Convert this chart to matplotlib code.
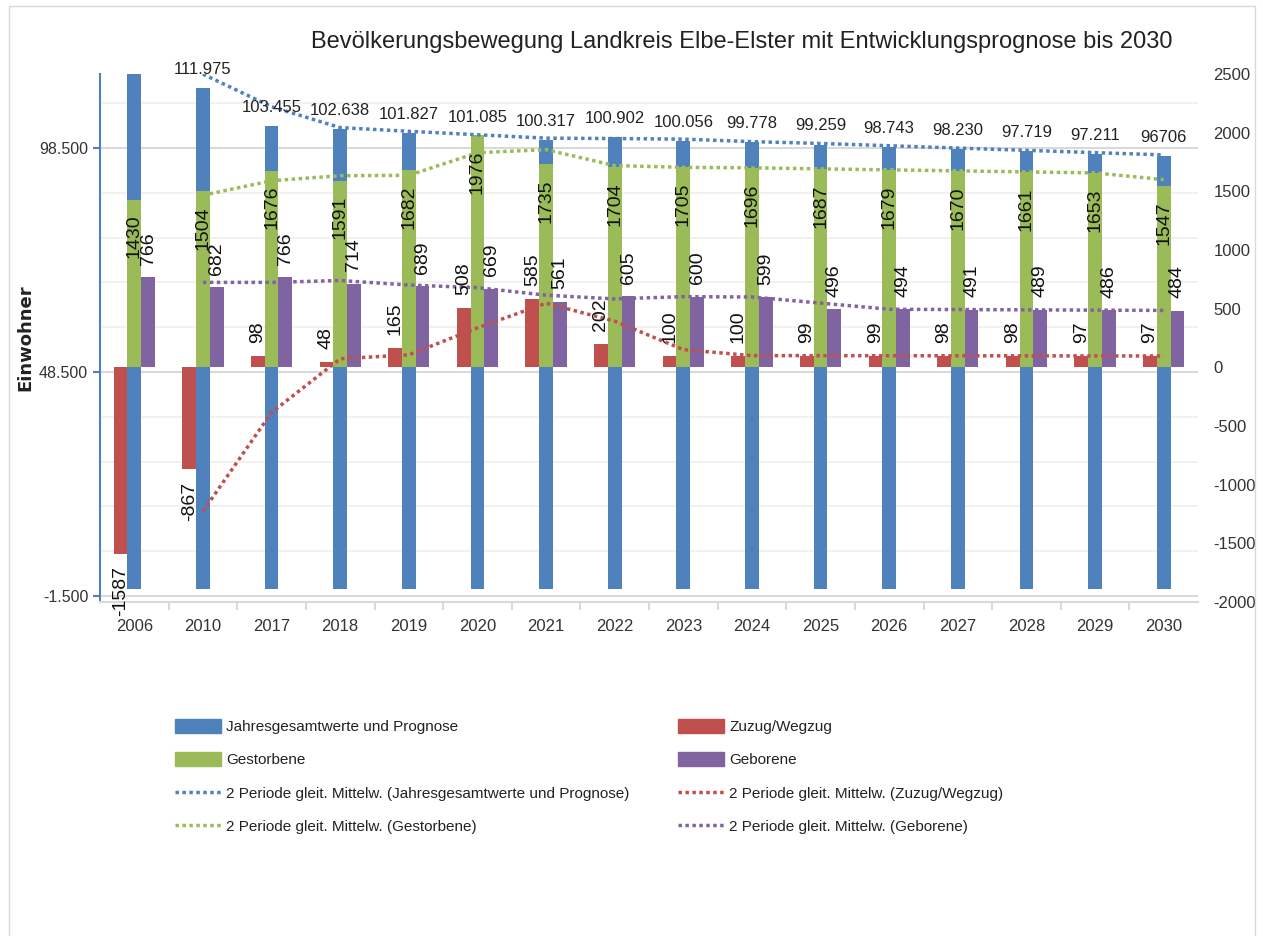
import numpy as np
import matplotlib.pyplot as plt
from matplotlib.patches import Patch, Rectangle
from matplotlib.lines import Line2D

plt.rcParams["axes.unicode_minus"] = False

# Data
years = ["2006", "2010", "2017", "2018", "2019", "2020", "2021", "2022",
         "2023", "2024", "2025", "2026", "2027", "2028", "2029", "2030"]
einwohner = [118000, 111975, 103455, 102638, 101827, 101085, 100317, 100902,
             100056, 99778, 99259, 98743, 98230, 97719, 97211, 96706]
zuzug = [-1587, -867, 98, 48, 165, 508, 585, 202, 100, 100, 99, 99, 98, 98, 97, 97]
gestorbene = [1430, 1504, 1676, 1591, 1682, 1976, 1735, 1704, 1705, 1696,
              1687, 1679, 1670, 1661, 1653, 1547]
geborene = [766, 682, 766, 714, 689, 669, 561, 605, 600, 599, 496, 494,
            491, 489, 486, 484]
einw_labels = ["", "111.975", "103.455", "102.638", "101.827", "101.085", "100.317",
               "100.902", "100.056", "99.778", "99.259", "98.743", "98.230",
               "97.719", "97.211", "96706"]

# colours (Office palette)
c_blue = "#4f81bd"
c_red = "#c0504d"
c_green = "#9bbb59"
c_purple = "#8064a2"

FONT = ["Liberation Sans", "DejaVu Sans"]


def moving_avg(v):
    v = np.asarray(v, dtype=float)
    return (v[:-1] + v[1:]) / 2


x = np.arange(len(years))
w = 0.2
dots = (0, (1, 1))

fig = plt.figure(figsize=(12.63, 9.36), dpi=100)
ax = fig.add_axes([100 / 1263, 1 - 602 / 936, 1098 / 1263, 528 / 936])

# primary axis: total population
left_lim = (-2839, 115018)
ax.set_ylim(left_lim)
ax.set_xlim(-0.5, len(years) - 0.5)
ax.bar(x, einwohner, w, color=c_blue, zorder=2)

ax.set_yticks([-1500, 48500, 98500], ["-1.500", "48.500", "98.500"])
ax.set_yticks(np.arange(8500, 115000, 10000), minor=True)
ax.grid(axis="y", which="major", color="#d9d9d9", lw=1.5, zorder=0)
ax.grid(axis="y", which="minor", color="#efefef", lw=1.2, zorder=0)
ax.tick_params(axis="y", which="major", colors=c_blue, length=5, width=1.5,
               labelcolor="#333333", labelsize=11.5, labelfontfamily=FONT)
ax.tick_params(axis="y", which="minor", length=0)
ax.set_xticks(x, years)
ax.set_xticks(x[:-1] + 0.5, minor=True)
ax.tick_params(axis="x", which="major", length=0, pad=12, labelsize=12,
               labelcolor="#333333", labelfontfamily=FONT)
ax.tick_params(axis="x", which="minor", length=6, width=1.5, color="#d9d9d9")
ax.spines["top"].set_visible(False)
ax.spines["right"].set_visible(False)
ax.spines["left"].set_color(c_blue)
ax.spines["left"].set_linewidth(1.5)
ax.spines["bottom"].set_color("#d9d9d9")
ax.spines["bottom"].set_linewidth(1.5)
ax.set_axisbelow(True)

# secondary axis: movements
ax2 = ax.twinx()
ax2.set_ylim(-2000, 2500)
ax2.bar(x - w, zuzug, w, color=c_red)
ax2.bar(x, gestorbene, w, color=c_green)
ax2.bar(x + w, geborene, w, color=c_purple)
ax2.plot(x[1:], moving_avg(zuzug), color=c_red, lw=2.5, ls=dots)
ax2.plot(x[1:], moving_avg(gestorbene), color=c_green, lw=2.5, ls=dots)
ax2.plot(x[1:], moving_avg(geborene), color=c_purple, lw=2.5, ls=dots)
ax2.set_yticks(np.arange(-2000, 2501, 500))
ax2.tick_params(axis="y", length=0, pad=11, labelsize=12, labelcolor="#333333",
                labelfontfamily=FONT)
for s in ax2.spines.values():
    s.set_visible(False)

for i in range(len(years)):
    if zuzug[i] >= 0:
        ax2.annotate(str(zuzug[i]), (x[i] - w, zuzug[i]), xytext=(0, 9),
                     textcoords="offset points", rotation=90, ha="center",
                     va="bottom", fontsize=14, family=FONT, color="#111111")
    else:
        ax2.annotate(str(zuzug[i]), (x[i] - w, zuzug[i]), xytext=(0, -9),
                     textcoords="offset points", rotation=90, ha="center",
                     va="top", fontsize=14, family=FONT, color="#111111",
                     annotation_clip=False)
    ax2.annotate(str(gestorbene[i]), (x[i], gestorbene[i]), xytext=(0, -11),
                 textcoords="offset points", rotation=90, ha="center",
                 va="top", fontsize=14, family=FONT, color="#111111")
    ax2.annotate(str(geborene[i]), (x[i] + w, geborene[i]), xytext=(0, 9),
                 textcoords="offset points", rotation=90, ha="center",
                 va="bottom", fontsize=14, family=FONT, color="#111111")

# overlay axis so the blue trend and labels sit above the other bars
ax3 = ax.twinx()
ax3.set_ylim(left_lim)
ax3.plot(x[1:], moving_avg(einwohner), color=c_blue, lw=2.5, ls=dots)
for i in range(len(years)):
    if einw_labels[i]:
        ax3.annotate(einw_labels[i], (x[i], einwohner[i]), xytext=(0, 8),
                     textcoords="offset points", ha="center", va="bottom",
                     fontsize=12, family=FONT, color="#222222")
ax3.set_yticks([])
for s in ax3.spines.values():
    s.set_visible(False)

# text
fig.text(742 / 1263, 1 - 42 / 936,
         "Bevölkerungsbewegung Landkreis Elbe-Elster mit Entwicklungsprognose bis 2030",
         ha="center", va="center", fontsize=17, family=FONT, color="#222222")
fig.text(25 / 1263, 1 - 338 / 936, "Einwohner", rotation=90, ha="center",
         va="center", fontsize=13, weight="bold", color="#222222")

# legend in two columns
leg_left = [Patch(color=c_blue), Patch(color=c_green),
            Line2D([], [], color=c_blue, lw=2.5, ls=dots),
            Line2D([], [], color=c_green, lw=2.5, ls=dots)]
lab_left = ["Jahresgesamtwerte und Prognose", "Gestorbene",
            "2 Periode gleit. Mittelw. (Jahresgesamtwerte und Prognose)",
            "2 Periode gleit. Mittelw. (Gestorbene)"]
leg_right = [Patch(color=c_red), Patch(color=c_purple),
             Line2D([], [], color=c_red, lw=2.5, ls=dots),
             Line2D([], [], color=c_purple, lw=2.5, ls=dots)]
lab_right = ["Zuzug/Wegzug", "Geborene",
             "2 Periode gleit. Mittelw. (Zuzug/Wegzug)",
             "2 Periode gleit. Mittelw. (Geborene)"]
for handles, labels, xl in [(leg_left, lab_left, 175), (leg_right, lab_right, 678)]:
    fig.legend(handles, labels, loc="upper left",
               bbox_to_anchor=(xl / 1263, 1 - 719 / 936), frameon=False,
               borderpad=0, borderaxespad=0, handlelength=3.0, handleheight=1.0,
               handletextpad=0.35, labelspacing=1.2,
               prop={"family": FONT, "size": 11}, labelcolor="#222222")

fig.patches.append(Rectangle((9 / 1263, -0.01), 1246 / 1263, 1.01 - 6 / 936,
                             transform=fig.transFigure, fill=False,
                             ec="#d9d9d9", lw=1))

fig.savefig("out.png", dpi=100)
